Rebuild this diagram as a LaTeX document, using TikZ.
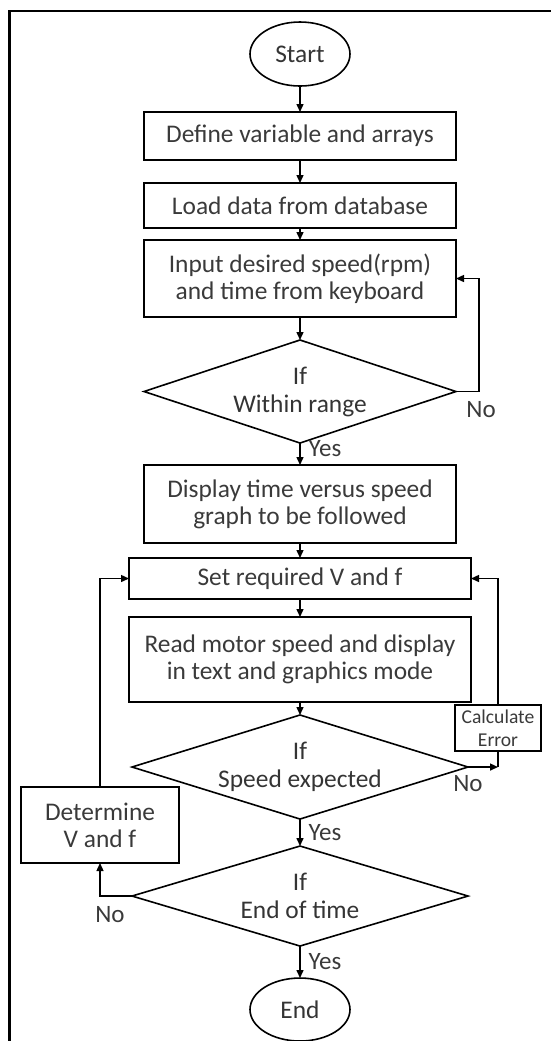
\documentclass[tikz,border=0pt]{standalone}
\usepackage{fontspec}
\setmainfont{Carlito}
\usetikzlibrary{
  positioning,
  arrows.meta,
  shapes.geometric,
  calc
}
\definecolor{ink}{HTML}{3A3A3A}

\begin{document}
\begin{tikzpicture}[x=0.5pt, y=-0.5pt,
  box/.style={draw, line width=0.8pt, outer sep=0pt, minimum width=156pt, inner sep=0pt, align=center, text=ink, font=\fontsize{12.7}{13.5}\selectfont},
  wide/.style={box, minimum width=171pt},
  decision/.style={draw, diamond, aspect=3, line width=0.8pt, outer sep=0pt, minimum width=156pt, minimum height=51.5pt, inner sep=0pt, align=center, text=ink!90!black, font=\fontsize{12.7}{14}\selectfont},
  term/.style={draw, ellipse, line width=0.8pt, outer sep=0pt, minimum width=50pt, minimum height=32pt, inner sep=0pt, text=ink!90!black, font=\fontsize{12.7}{13.5}\selectfont},
  arr/.style={-{Triangle[length=4pt, width=3.5pt]}, line width=0.7pt},
  lbl/.style={text=ink, inner sep=0pt, font=\fontsize{12.5}{13}\selectfont}
]
  \useasboundingbox (0,0) rectangle (551,1041);
  \draw[line width=1.3pt] (9.5,1041) -- (9.5,11) -- (551,11);

  % main column
  \node[term] (start) at (300,54) {Start};
  \node[box, minimum height=24pt, below=13pt of start] (def) {Define variable and arrays};
  \node[box, minimum height=22.5pt, below=11.5pt of def] (load) {Load data from database};
  \node[box, minimum height=38.5pt, below=6pt of load] (inp) {Input desired speed(rpm)\\and time from keyboard};
  \node[decision, below=11.5pt of inp] (rng) {If\\Within range};
  \node[box, minimum height=39pt, below=11pt of rng] (disp) {Display time versus speed\\graph to be followed};
  \node[wide, minimum height=20.5pt, below=7.5pt of disp] (setvf) {Set required V and f};
  \node[wide, minimum height=42.5pt, below=9pt of setvf] (read) {Read motor speed and display\\in text and graphics mode};
  \node[decision, minimum width=168pt, minimum height=51pt, below=6.5pt of read] (spd) {If\\Speed expected};
  \node[decision, minimum width=168pt, minimum height=50pt, below=13.5pt of spd] (eot) {If\\End of time};
  \node[term, minimum height=31.5pt, below=16pt of eot] (stop) {End};

  % side boxes
  \node[box, minimum width=43pt, minimum height=23pt, font=\fontsize{9.8}{11.5}\selectfont] (calc) at (498,728) {Calculate\\Error};
  \node[box, minimum width=79pt, minimum height=38pt] (dtm) at (100,825) {Determine\\V and f};

  \draw[arr] (start) -- (def);
  \draw[arr] (def) -- (load);
  \draw[arr] (load) -- (inp);
  \draw[arr] (inp) -- (rng);
  \draw[arr] (rng.south) -- (disp.north) node[lbl, near start, right=4pt] (yes1) {Yes};
  \draw[arr] (rng.east) -- ++(11.5pt,0) |- (inp.east);
  \node[lbl, anchor=north west] (no1) at ($(rng.east)+(5pt,-5pt)$) {No};
  \draw[arr] (disp) -- (setvf);
  \draw[arr] (setvf) -- (read);
  \draw[arr] (read) -- (spd);
  \draw[arr] (spd.south) -- (eot.north) node[lbl, midway, right=4pt] (yes2) {Yes};
  \draw[arr] (eot.south) -- (stop.north) node[lbl, midway, right=4pt] (yes3) {Yes};

  % correction loops
  \draw[arr] (spd.east) -- (spd.east -| calc.south);
  \draw[line width=0.7pt] (spd.east -| calc.south) -- (calc.south);
  \draw[arr] (calc.north) |- (setvf.east);
  \node[lbl, anchor=north] (no2) at ($(spd.east)+(0,-4pt)$) {No};
  \draw[arr] (eot.west) -| (dtm.south);
  \draw[arr] (dtm.north) |- (setvf.west);
  \node[lbl, anchor=north] (no3) at ($(eot.west)+(-11pt,-5pt)$) {No};
\end{tikzpicture}
\end{document}
